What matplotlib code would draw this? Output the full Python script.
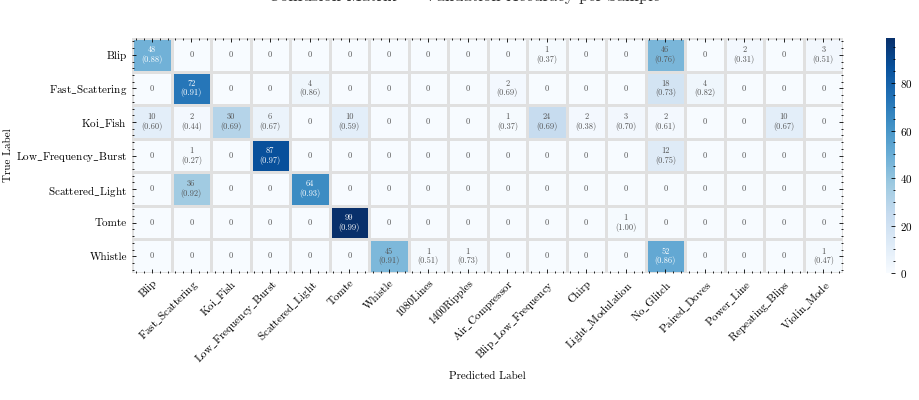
import numpy as np
import matplotlib
matplotlib.use("Agg")
import matplotlib.pyplot as plt
from matplotlib.ticker import AutoMinorLocator, FixedLocator

plt.rcParams['font.family'] = ['cmr10', 'DejaVu Serif']
plt.rcParams['mathtext.fontset'] = 'cm'
plt.rcParams['axes.formatter.use_mathtext'] = True

true_labels = ["Blip", "Fast_Scattering", "Koi_Fish", "Low_Frequency_Burst",
               "Scattered_Light", "Tomte", "Whistle"]
pred_labels = ["Blip", "Fast_Scattering", "Koi_Fish", "Low_Frequency_Burst",
               "Scattered_Light", "Tomte", "Whistle", "1080Lines", "1400Ripples",
               "Air_Compressor", "Blip_Low_Frequency", "Chirp", "Light_Modulation",
               "No_Glitch", "Paired_Doves", "Power_Line", "Repeating_Blips", "Violin_Mode"]

counts = [
    [48, 0, 0, 0, 0, 0, 0, 0, 0, 0, 1, 0, 0, 46, 0, 2, 0, 3],
    [0, 72, 0, 0, 4, 0, 0, 0, 0, 2, 0, 0, 0, 18, 4, 0, 0, 0],
    [10, 2, 30, 6, 0, 10, 0, 0, 0, 1, 24, 2, 3, 2, 0, 0, 10, 0],
    [0, 1, 0, 87, 0, 0, 0, 0, 0, 0, 0, 0, 0, 12, 0, 0, 0, 0],
    [0, 36, 0, 0, 64, 0, 0, 0, 0, 0, 0, 0, 0, 0, 0, 0, 0, 0],
    [0, 0, 0, 0, 0, 99, 0, 0, 0, 0, 0, 0, 1, 0, 0, 0, 0, 0],
    [0, 0, 0, 0, 0, 0, 45, 1, 1, 0, 0, 0, 0, 52, 0, 0, 0, 1],
]
confidence = [
    [0.88, 0, 0, 0, 0, 0, 0, 0, 0, 0, 0.37, 0, 0, 0.76, 0, 0.31, 0, 0.51],
    [0, 0.91, 0, 0, 0.86, 0, 0, 0, 0, 0.69, 0, 0, 0, 0.73, 0.82, 0, 0, 0],
    [0.60, 0.44, 0.69, 0.67, 0, 0.59, 0, 0, 0, 0.37, 0.69, 0.38, 0.70, 0.61, 0, 0, 0.67, 0],
    [0, 0.27, 0, 0.97, 0, 0, 0, 0, 0, 0, 0, 0, 0, 0.75, 0, 0, 0, 0],
    [0, 0.92, 0, 0, 0.93, 0, 0, 0, 0, 0, 0, 0, 0, 0, 0, 0, 0, 0],
    [0, 0, 0, 0, 0, 0.99, 0, 0, 0, 0, 0, 0, 1.00, 0, 0, 0, 0, 0],
    [0, 0, 0, 0, 0, 0, 0.91, 0.51, 0.73, 0, 0, 0, 0, 0.86, 0, 0, 0, 0.47],
]
title_text = "Confusion Matrix \u2014 Validation Accuracy per Sample"


def tex_label(s):
    return s.replace('_', r'$\_$')


C = np.array(counts, dtype=float)
P = np.array(confidence, dtype=float)
nr, nc = C.shape
vmax = C.max()

fig = plt.figure(figsize=(9.19, 4.0), dpi=100)
ax = fig.add_axes([132/919, 1-273/400, 711/919, 235/400])
cmap = plt.get_cmap('Blues')
mesh = ax.pcolormesh(np.arange(nc+1), np.arange(nr+1), C, cmap=cmap, vmin=0, vmax=vmax,
                     edgecolors='#e0e0e0', linewidth=1.0)
ax.set_xlim(0, nc)
ax.set_ylim(nr, 0)

for i in range(nr):
    for j in range(nc):
        v = C[i, j]
        dark = v > 0.475 * vmax
        col = 'white' if dark else '#555555'
        if v > 0:
            ax.text(j+0.5, i+0.5, f"{int(v)}\n({P[i, j]:.2f})", ha='center', va='center',
                    fontsize=6, color=col, linespacing=1.1)
        else:
            ax.text(j+0.5, i+0.5, "0", ha='center', va='center', fontsize=6, color=col)

ax.xaxis.set_major_locator(FixedLocator(np.arange(nc)+0.5))
ax.yaxis.set_major_locator(FixedLocator(np.arange(nr)+0.5))
ax.set_xticklabels([tex_label(s) for s in pred_labels], rotation=45, ha='right',
                   rotation_mode='anchor', fontsize=8)
ax.set_yticklabels([tex_label(s) for s in true_labels], fontsize=8)
ax.xaxis.set_minor_locator(AutoMinorLocator(5))
ax.yaxis.set_minor_locator(AutoMinorLocator(5))
ax.tick_params(which='both', direction='in', top=True, right=True, width=0.6)
ax.tick_params(which='major', length=3)
ax.tick_params(which='minor', length=1.5)
for s in ax.spines.values():
    s.set_visible(False)
ax.set_xlabel("Predicted Label", fontsize=8)
ax.set_ylabel("True Label", fontsize=8, labelpad=2)

cax = fig.add_axes([886/919, 1-273/400, 9/919, 235/400])
cb = fig.colorbar(mesh, cax=cax)
cb.outline.set_visible(False)
cb.set_ticks([0, 20, 40, 60, 80])
cax.yaxis.set_minor_locator(AutoMinorLocator(4))
cax.tick_params(which='major', labelsize=8, length=3, width=0.6, direction='in')
cax.tick_params(which='minor', length=1.5, width=0.6, direction='in')

fig.text(0.505, 1 - 1.5/400, title_text, ha='center', va='baseline', fontsize=12, color='#333333')

fig.savefig("out.png", dpi=100)
